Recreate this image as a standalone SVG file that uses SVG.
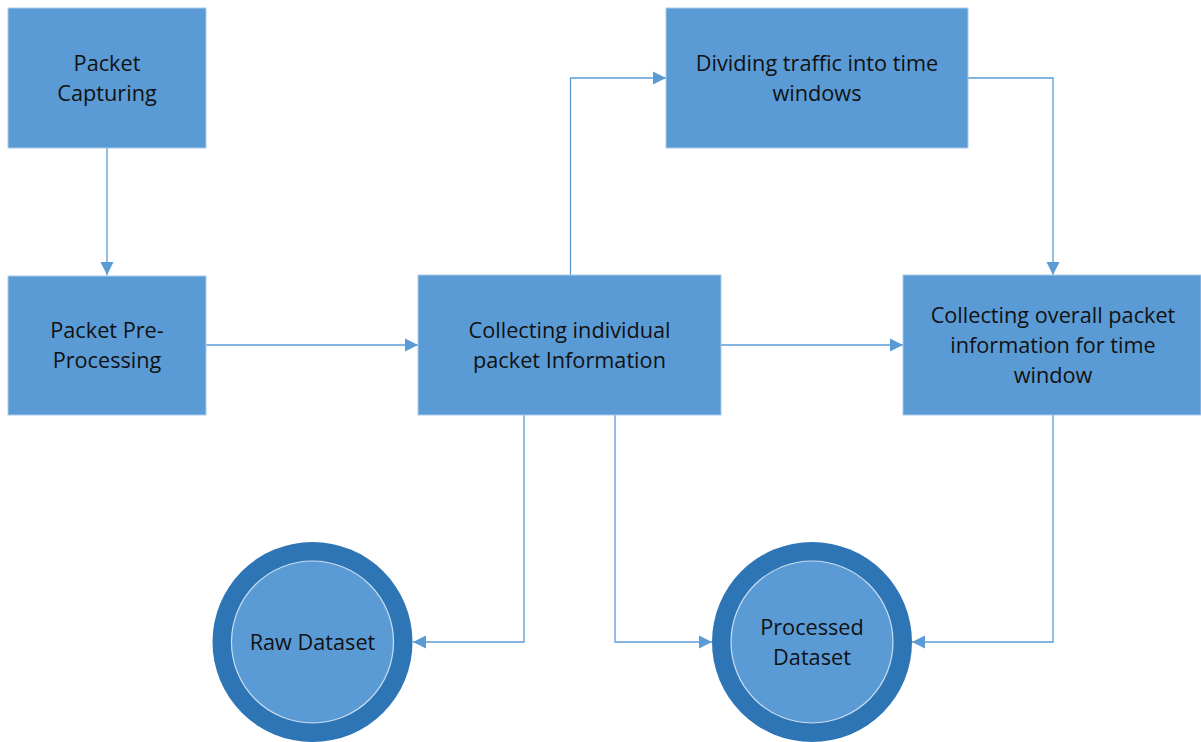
<svg xmlns="http://www.w3.org/2000/svg" width="1201" height="742" viewBox="0 0 1201 742">
  <style>
    .box { fill: #5B9BD5; stroke: #A9C9E8; stroke-width: 1; }
    .ring { fill: #2E75B6; }
    .core { fill: #5B9BD5; stroke: #C9DDF0; stroke-width: 1.2; }
    .lbl { font-family: "Open Sans", "Liberation Sans", sans-serif; font-size: 21.7px; fill: #111; text-anchor: middle; }
    .wire { fill: none; stroke: #5B9BD5; stroke-width: 1.3; }
  </style>
  <defs>
    <marker id="arrow" markerUnits="userSpaceOnUse" markerWidth="16" markerHeight="16" refX="13" refY="8" orient="auto">
      <path d="M0,1.5 L13,8 L0,14.5 Z" fill="#5B9BD5"/>
    </marker>
  </defs>
  <rect width="1201" height="742" fill="#fff"/>

  <!-- connectors -->
  <g id="connectors">
    <path class="wire" d="M107,148 V275" marker-end="url(#arrow)"/>
    <path class="wire" d="M206,345 H418" marker-end="url(#arrow)"/>
    <path class="wire" d="M570.5,275 V78 H666" marker-end="url(#arrow)"/>
    <path class="wire" d="M968,78 H1053 V275" marker-end="url(#arrow)"/>
    <path class="wire" d="M721,345 H903" marker-end="url(#arrow)"/>
    <path class="wire" d="M524,415 V642 H413" marker-end="url(#arrow)"/>
    <path class="wire" d="M615,415 V642 H712" marker-end="url(#arrow)"/>
    <path class="wire" d="M1053,415 V642 H912" marker-end="url(#arrow)"/>
  </g>

  <g id="packet-capturing">
    <rect class="box" x="8" y="8" width="198" height="140"/>
    <text class="lbl" x="107" y="70.5">Packet</text>
    <text class="lbl" x="107" y="100.5">Capturing</text>
  </g>

  <g id="packet-preprocessing">
    <rect class="box" x="8" y="276" width="198" height="139"/>
    <text class="lbl" x="107" y="337.5">Packet Pre-</text>
    <text class="lbl" x="107" y="367.5">Processing</text>
  </g>

  <g id="collecting-individual">
    <rect class="box" x="418" y="275" width="303" height="140"/>
    <text class="lbl" x="569.5" y="337.5">Collecting individual</text>
    <text class="lbl" x="569.5" y="367.5">packet Information</text>
  </g>

  <g id="dividing-traffic">
    <rect class="box" x="666" y="8" width="302" height="140"/>
    <text class="lbl" x="817" y="70.5">Dividing traffic into time</text>
    <text class="lbl" x="817" y="100.5">windows</text>
  </g>

  <g id="collecting-overall">
    <rect class="box" x="903" y="275" width="298" height="140"/>
    <text class="lbl" x="1053" y="322.5">Collecting overall packet</text>
    <text class="lbl" x="1053" y="352.5">information for time</text>
    <text class="lbl" x="1053" y="382.5">window</text>
  </g>

  <g id="raw-dataset">
    <circle class="ring" cx="312.5" cy="642" r="100"/>
    <circle class="core" cx="312.5" cy="642" r="81"/>
    <text class="lbl" x="312.5" y="649.5">Raw Dataset</text>
  </g>

  <g id="processed-dataset">
    <circle class="ring" cx="812" cy="642" r="100"/>
    <circle class="core" cx="812" cy="642" r="81"/>
    <text class="lbl" x="812" y="634.5">Processed</text>
    <text class="lbl" x="812" y="664.5">Dataset</text>
  </g>
</svg>
